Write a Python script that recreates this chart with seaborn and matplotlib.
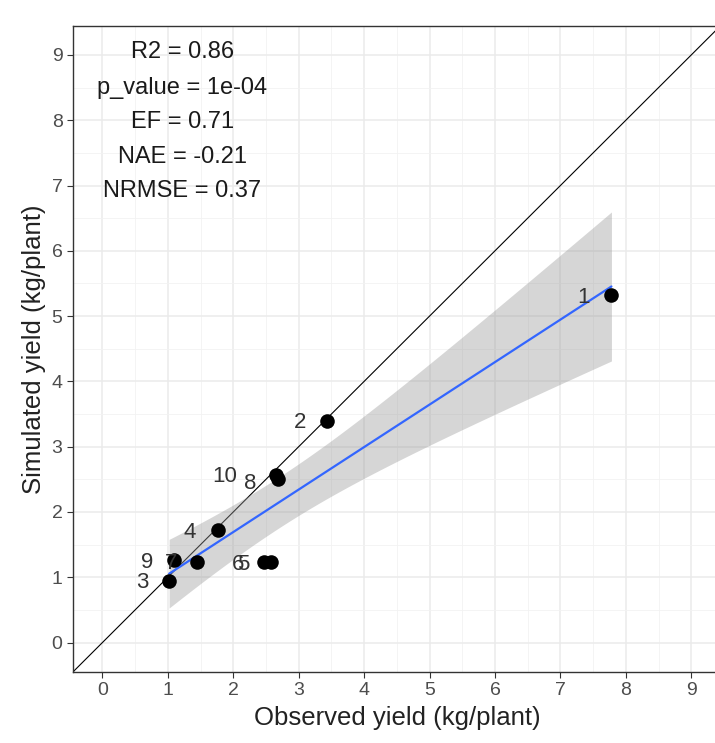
import numpy as np
import pandas as pd
import matplotlib
matplotlib.use("Agg")
import matplotlib.pyplot as plt
import seaborn as sns
from matplotlib.ticker import MultipleLocator

# ---- data ----
labels = ["1", "2", "3", "4", "5", "6", "7", "8", "9", "10"]
observed = [7.78, 3.43, 1.02, 1.76, 2.58, 2.47, 1.45, 2.68, 1.09, 2.66]
simulated = [5.32, 3.40, 0.95, 1.72, 1.24, 1.24, 1.24, 2.50, 1.26, 2.56]
stats_lines = ["R2 = 0.86", "p_value = 1e-04", "EF = 0.71", "NAE = -0.21", "NRMSE = 0.37"]
ticks = list(range(0, 10))

# label offsets in pixels (repelled label placement)
label_offsets = {"1": (-28, -2), "2": (-27, -2), "3": (-27, -2), "4": (-28, -2),
                 "5": (-28, -3), "6": (-26, -3), "7": (-26, -2), "8": (-28, -4),
                 "9": (-27, -2), "10": (-52, -1)}

df = pd.DataFrame({"obs": observed, "sim": simulated, "lab": labels})

sns.set_theme(style="white")
plt.rcParams["font.family"] = ["Liberation Sans", "DejaVu Sans"]

fig = plt.figure(figsize=(7.15, 7.43), dpi=100)
ax = fig.add_axes([0.102, 0.0956, 0.906, 0.870])

lo, hi = -0.45, 9.45
ax.set_xlim(lo, hi)
ax.set_ylim(lo, hi)

# grid (theme_bw look)
ax.xaxis.set_major_locator(MultipleLocator(1))
ax.yaxis.set_major_locator(MultipleLocator(1))
ax.xaxis.set_minor_locator(MultipleLocator(0.5))
ax.yaxis.set_minor_locator(MultipleLocator(0.5))
ax.grid(which="major", color="#EBEBEB", linewidth=1.1)
ax.grid(which="minor", color="#F2F2F2", linewidth=0.6)
ax.set_axisbelow(True)

# 1:1 line
ax.plot([lo, hi], [lo, hi], color="black", linewidth=0.8, zorder=2)

# regression CI band (analytic, like geom_smooth(method='lm'))
x = np.array(observed); y = np.array(simulated)
n = len(x)
b, a = np.polyfit(x, y, 1)
resid = y - (a + b * x)
s = np.sqrt(np.sum(resid ** 2) / (n - 2))
xg = np.linspace(x.min(), x.max(), 100)
sxx = np.sum((x - x.mean()) ** 2)
se = s * np.sqrt(1 / n + (xg - x.mean()) ** 2 / sxx)
tval = 2.306
yg = a + b * xg
ax.fill_between(xg, yg - tval * se, yg + tval * se, color="#999999", alpha=0.4,
                linewidth=0, zorder=3)

sns.regplot(data=df, x="obs", y="sim", ax=ax, scatter=False, ci=None,
            line_kws={"color": "#3366FF", "linewidth": 1.6, "zorder": 4})

sns.scatterplot(data=df, x="obs", y="sim", ax=ax, color="black", s=110,
                edgecolor="black", linewidth=0, zorder=5)

for lab, xo, yo in zip(labels, observed, simulated):
    dx, dy = label_offsets[lab]
    ax.annotate(lab, (xo, yo), xytext=(dx, dy), textcoords="offset pixels",
                ha="center", va="center", fontsize=16, color="#333333", zorder=6)

stat_y = [9.04, 8.5, 7.97, 7.43, 6.92]
for txt, yy in zip(stats_lines, stat_y):
    ax.text(1.22, yy, txt, ha="center", va="center", fontsize=17, color="#1A1A1A")

ax.set_xticks(ticks)
ax.set_yticks(ticks)
ax.tick_params(axis="both", which="major", direction="out", length=4, width=0.8,
               color="#333333", labelcolor="#4D4D4D", labelsize=14, bottom=True, left=True)
ax.tick_params(axis="both", which="minor", length=0)
for sp in ax.spines.values():
    sp.set_color("#333333")
    sp.set_linewidth(1.0)

ax.set_xlabel("Observed yield (kg/plant)", fontsize=18.5, color="#222222", labelpad=5)
ax.set_ylabel("Simulated yield (kg/plant)", fontsize=18.5, color="#222222", labelpad=4)

fig.savefig("out.png", dpi=100)
